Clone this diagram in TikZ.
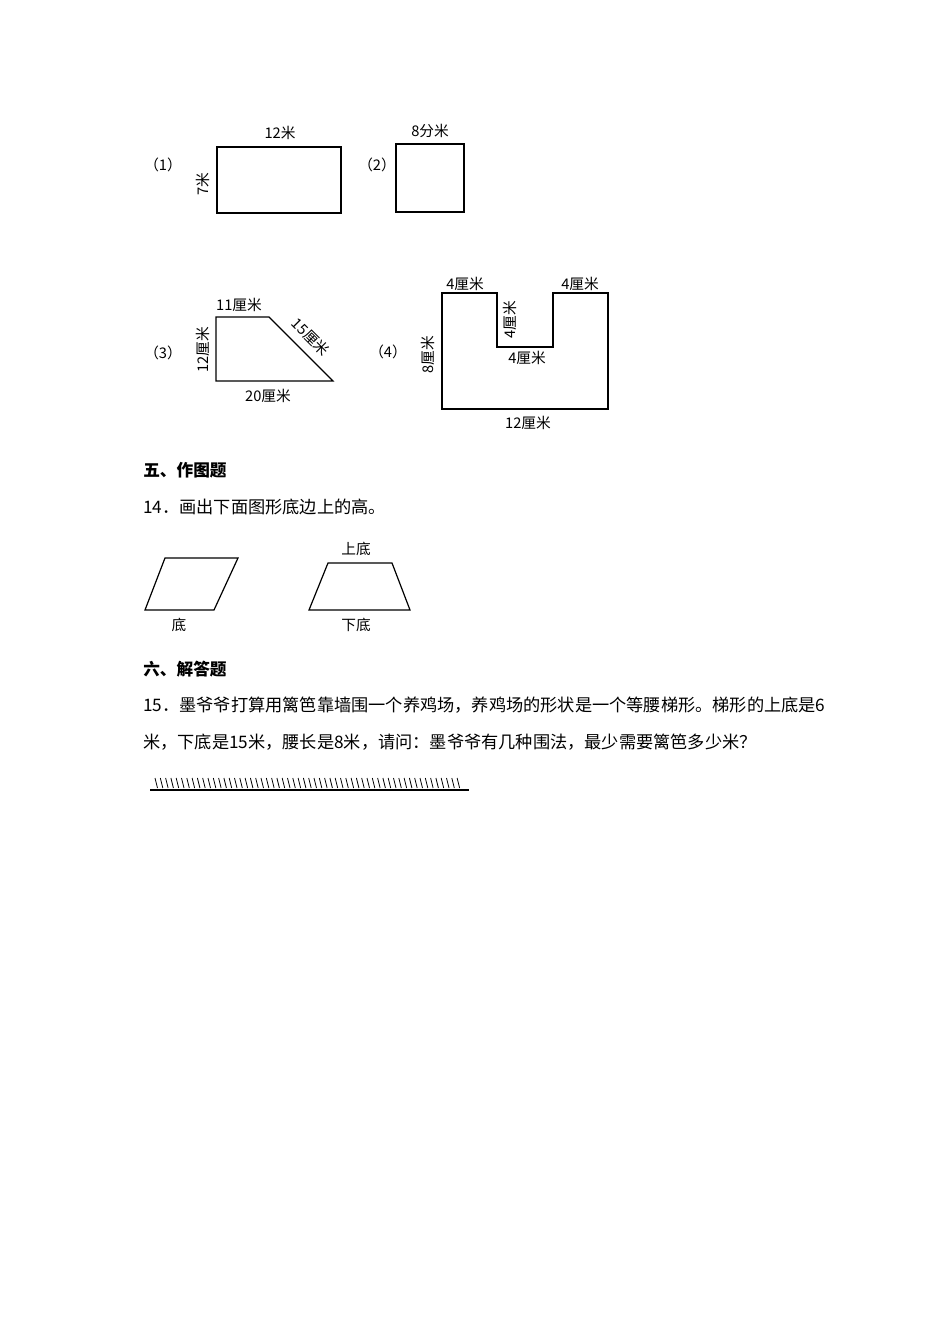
\documentclass[tikz,border=0pt]{standalone}
\usepackage{fontspec}
\setmainfont{Liberation Serif}
\newfontfamily\cjk{Noto Sans CJK SC}
\begin{document}
\begin{tikzpicture}[x=0.75pt,y=-0.75pt,
  shp/.style={draw,line width=0.9pt},
  lbl/.style={font=\cjk\fontsize{11}{12}\selectfont,inner sep=0pt},
  txt/.style={font=\cjk\fontsize{12.9}{14}\selectfont,inner sep=0pt,anchor=west},
  hd/.style={font=\cjk\bfseries\fontsize{12.5}{14}\selectfont,inner sep=0pt,anchor=west}]
\useasboundingbox[fill=white] (0,0) rectangle (950,1344);
% (1)
\node[lbl] (n1) at (163,165) {（1）};
\draw[shp] (217,147) rectangle (341,213);
\node[lbl] (a1) at (280,133) {12米};
\node[lbl,rotate=90] (a2) at (203,184) {7米};
% (2)
\node[lbl] (n2) at (377,165) {（2）};
\draw[shp] (396,144) rectangle (464,212);
\node[lbl] (b1) at (430,131) {8分米};
% (3)
\node[lbl] (n3) at (163,353) {（3）};
\draw[shp] (216,317) -- (269,317) -- (333,381) -- (216,381) -- cycle;
\node[lbl] (c1) at (239,305) {11厘米};
\node[lbl,rotate=-45] (c2) at (311,337) {15厘米};
\node[lbl,rotate=90] (c3) at (203,350) {12厘米};
\node[lbl] (c4) at (268,396) {20厘米};
% (4)
\node[lbl] (n4) at (388,352) {（4）};
\draw[shp] (442,293) -- (497,293) -- (497,347) -- (553,347) -- (553,293) -- (608,293) -- (608,409) -- (442,409) -- cycle;
\node[lbl] (d1) at (465,284) {4厘米};
\node[lbl] (d2) at (580,284) {4厘米};
\node[lbl,rotate=90] (d3) at (510,320) {4厘米};
\node[lbl] (d4) at (527,358) {4厘米};
\node[lbl,rotate=90] (d5) at (428,355) {8厘米};
\node[lbl] (d6) at (528,423) {12厘米};
% section 5
\node[hd] (h5) at (143,470) {五、作图题};
\node[txt] (q14) at (143,507) {14．画出下面图形底边上的高。};
\draw[shp] (145,610) -- (214,610) -- (238,558) -- (165,558) -- cycle;
\draw[shp] (309,610) -- (410,610) -- (392,563) -- (328,563) -- cycle;
\node[lbl] (e1) at (179,625) {底};
\node[lbl] (e2) at (356,549) {上底};
\node[lbl] (e3) at (356,625) {下底};
% section 6
\node[hd] (h6) at (143,669) {六、解答题};
\node[txt] (q15a) at (143,705) {15．墨爷爷打算用篱笆靠墙围一个养鸡场，养鸡场的形状是一个等腰梯形。梯形的上底是6};
\node[txt] (q15b) at (143,742) {米，下底是15米，腰长是8米，请问：墨爷爷有几种围法，最少需要篱笆多少米？};
\draw[line width=1.6pt] (150,790) -- (469,790);
\foreach \i in {0,...,57} {\draw[line width=0.6pt] (155+\i*5.3,778) -- (157.5+\i*5.3,788);}
\end{tikzpicture}
\end{document}
